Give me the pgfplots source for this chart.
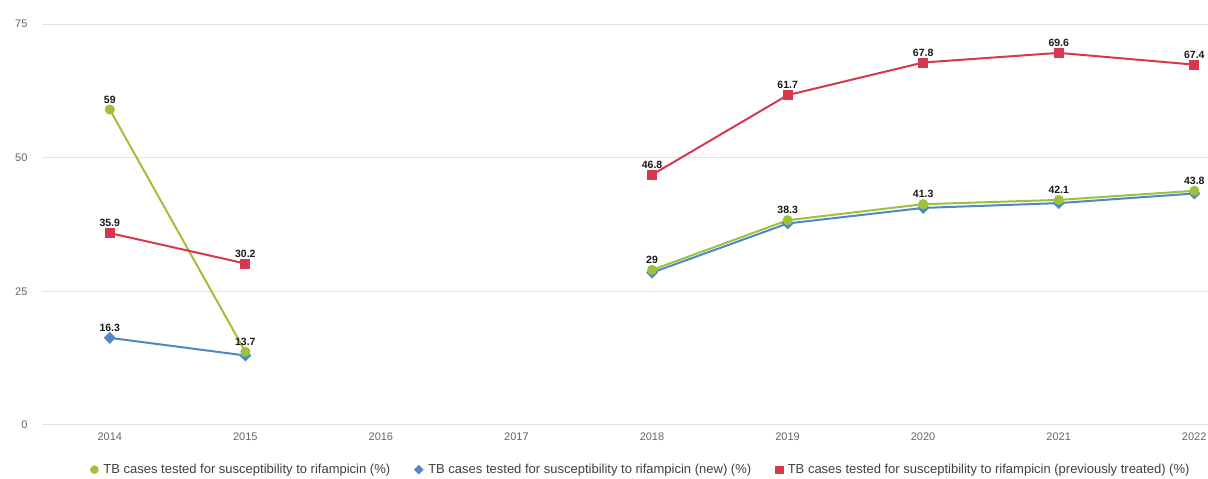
\documentclass[border=0pt]{standalone}
\usepackage{pgfplots}
\pgfplotsset{compat=1.18}
\usepackage{fontspec}
\setmainfont{Liberation Sans}
\definecolor{cgreen}{HTML}{9DC13B}
\definecolor{cblue}{HTML}{4E88C7}
\definecolor{cred}{HTML}{D5384F}
\definecolor{cgrid}{HTML}{E4E4E4}
\definecolor{ctick}{HTML}{666666}
\begin{document}
\begin{tikzpicture}[x=1pt,y=1pt]
\path[use as bounding box] (0,0) rectangle (1208,479);
\begin{axis}[
  at={(42pt,54pt)}, anchor=south west,
  scale only axis, width=1166pt, height=401pt,
  xmin=2013.5, xmax=2022.1, ymin=0, ymax=75,
  axis line style={draw=none},
  ytick={0,25,50,75}, xtick={2014,...,2022},
  xticklabels={2014,2015,2016,2017,2018,2019,2020,2021,2022},
  major tick length=0pt,
  ymajorgrids, grid style={cgrid, line width=1pt},
  tick label style={font=\fontsize{11}{13}\selectfont, text=ctick},
  yticklabel style={xshift=-11pt},
  xticklabel style={yshift=-4pt},
  /pgf/number format/assume math mode=true,
  unbounded coords=jump,
  clip=false,
  nodes near coords,
  point meta=explicit symbolic,
  every node near coord/.append style={font=\bfseries\fontsize{10.5}{12}\selectfont, text=black!90, anchor=south, yshift=2pt},
  legend style={draw=none, at={(0.5,0)}, anchor=north, xshift=16pt, yshift=-35pt, font=\fontsize{13}{15}\selectfont, text=black!75, legend columns=3,
    /tikz/every odd column/.append style={column sep=3pt},
    /tikz/every even column/.append style={column sep=22pt}},
  legend cell align=left,
]
\addlegendimage{only marks, mark=*, mark size=4pt, color=cgreen, fill=cgreen}
\addlegendentry{TB cases tested for susceptibility to rifampicin (\%)}
\addlegendimage{only marks, mark=square*, mark size=3.2pt, color=cblue, fill=cblue, mark options={rotate=45}}
\addlegendentry{TB cases tested for susceptibility to rifampicin (new) (\%)}
\addlegendimage{only marks, mark=square*, mark size=3.8pt, color=cred, fill=cred}
\addlegendentry{TB cases tested for susceptibility to rifampicin (previously treated) (\%)}
\addplot[forget plot, color=cblue, line width=2pt, mark=square*, mark size=3.2pt, mark options={fill=cblue, rotate=45}]
  coordinates {(2014,16.3)[16.3] (2015,13.0)[] (2016,nan)[] (2017,nan)[] (2018,28.5)[] (2019,37.7)[] (2020,40.6)[] (2021,41.5)[] (2022,43.3)[]};
\addplot[forget plot, color=cgreen, line width=2pt, mark=*, mark size=4pt, mark options={fill=cgreen}]
  coordinates {(2014,59)[59] (2015,13.7)[13.7] (2016,nan)[] (2017,nan)[] (2018,29)[29] (2019,38.3)[38.3] (2020,41.3)[41.3] (2021,42.1)[42.1] (2022,43.8)[43.8]};
\addplot[forget plot, color=cred, line width=2pt, mark=square*, mark size=4pt, mark options={fill=cred}]
  coordinates {(2014,35.9)[35.9] (2015,30.2)[30.2] (2016,nan)[] (2017,nan)[] (2018,46.8)[46.8] (2019,61.7)[61.7] (2020,67.8)[67.8] (2021,69.6)[69.6] (2022,67.4)[67.4]};
\end{axis}
\end{tikzpicture}
\end{document}
